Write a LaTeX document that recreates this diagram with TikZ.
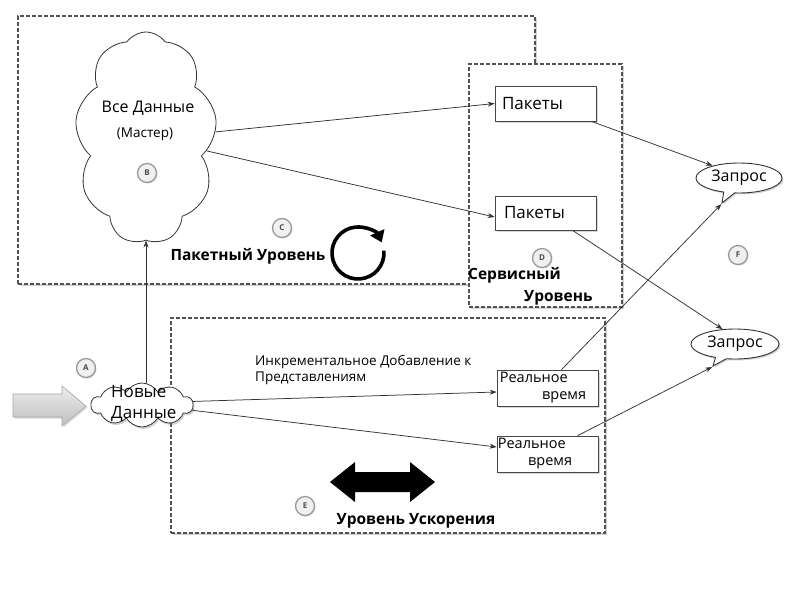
\documentclass[tikz,border=0pt]{standalone}
\usepackage{fontspec}
\setmainfont{Open Sans}
\usetikzlibrary{shapes.symbols,shapes.callouts,shadows,arrows.meta}
\definecolor{ln}{HTML}{333333}
\tikzset{
  dashbox/.style={draw=ln!85, dashed, dash pattern=on 4pt off 2pt, line width=1.3pt, fill=white, inner sep=0pt,
     drop shadow={shadow xshift=2pt, shadow yshift=-2pt, opacity=0.35, fill=gray}},
  plainbox/.style={draw=ln!90, line width=0.7pt, fill=white, inner sep=0pt,
     drop shadow={shadow xshift=1.5pt, shadow yshift=-1.5pt, opacity=0.3, fill=gray}},
  cloudnode/.style={cloud, cloud ignores aspect, draw=ln, line width=0.8pt, fill=white, inner sep=0pt},
  qnode/.style={ellipse callout, draw=ln, line width=0.9pt, fill=white, inner sep=0pt,
     font=\fontsize{16}{18}\selectfont,
     drop shadow={shadow xshift=1.5pt, shadow yshift=-1.5pt, opacity=0.35, fill=gray}},
  letter/.style={circle, draw=gray!80, line width=1.3pt, fill=gray!12, inner sep=0pt, minimum size=19pt,
     font=\fontsize{8}{9}\selectfont\bfseries, text=gray!60!black,
     drop shadow={shadow xshift=1pt, shadow yshift=-1pt, opacity=0.3, fill=gray}},
  conn/.style={draw=ln, line width=0.75pt, -{Stealth[length=7pt,width=5pt]}},
  lbl/.style={inner sep=0pt, font=\fontsize{16}{19}\selectfont},
  blbl/.style={inner sep=0pt, font=\fontsize{15.5}{18}\selectfont\bfseries},
  small/.style={inner sep=0pt, font=\fontsize{13.5}{16.5}\selectfont},
  rtlbl/.style={inner sep=0pt, font=\fontsize{14.5}{17}\selectfont},
}
\begin{document}
\begin{tikzpicture}[x=1pt,y=-1pt]
\useasboundingbox (0,0) rectangle (800,600);
% layers
\node[dashbox, minimum width=517pt, minimum height=268pt] (batch) at (276.5,150) {};
\node[dashbox, minimum width=434pt, minimum height=215pt] (speed) at (388,425.5) {};
\node[dashbox, minimum width=153pt, minimum height=243pt] (service) at (545.5,185.5) {};

% big cloud
\node[cloudnode, cloud puffs=9, cloud puff arc=110, minimum width=142pt, minimum height=212pt] (master) at (146,138) {};
\node[lbl] (t1) at (148,108) {Все Данные};
\node[small] (t2) at (145,134) {(Мастер)};
\node[letter] (B) at (147,173) {B};

% batch labels
\node[letter] (C) at (282,228) {C};
\node[blbl] (batchlbl) at (248,256) {Пакетный Уровень};
\draw[line width=3.6pt, -{Triangle[length=11pt,width=15pt]}] (383.9,250.7) arc[start angle=-5, end angle=336, radius=26];

% service
\node[plainbox, minimum width=101pt, minimum height=35pt, text width=87pt, align=left, font=\fontsize{17}{19}\selectfont] (p1) at (545.5,103.5) {Пакеты};
\node[plainbox, minimum width=101pt, minimum height=34pt, text width=83pt, align=left, font=\fontsize{17}{19}\selectfont] (p2) at (545.5,213) {\raisebox{-3pt}{Пакеты}};
\node[letter] (D) at (542,258) {D};
\node[blbl, anchor=west] (sv1) at (468,275) {Сервисный};
\node[blbl, anchor=west] (sv2) at (524,298) {Уровень};

% queries
\node[qnode, minimum width=86pt, minimum height=30pt, callout absolute pointer={(722,203)}] (q1) at (739,178) {Запрос};
\node[qnode, minimum width=88pt, minimum height=30pt, callout absolute pointer={(713,366)}] (q2) at (735,344) {Запрос};
\node[letter] (F) at (738,255) {F};

% speed layer
\node[plainbox, minimum width=101pt, minimum height=36pt] (r1) at (547.5,388) {};
\node[rtlbl, anchor=north west] at ([xshift=3pt,yshift=-2pt]r1.north west) {Реальное};
\node[rtlbl, anchor=south east] at ([xshift=-12pt,yshift=3pt]r1.south east) {время};
\node[plainbox, minimum width=101pt, minimum height=36pt] (r2) at (547.5,454) {};
\node[rtlbl, anchor=north west] at ([xshift=1pt,yshift=-2pt]r2.north west) {Реальное};
\node[rtlbl, anchor=south east] at ([xshift=-26pt,yshift=3pt]r2.south east) {время};
\node[small, anchor=west, align=left] (inc) at (255,370) {Инкрементальное Добавление к\\Представлениям};
\node[letter] (E) at (305,506) {E};
\node[blbl] (speedlbl) at (416,521) {Уровень Ускорения};
\fill[black] (330,482) -- (355,462) -- (355,472) -- (410,472) -- (410,462) -- (435,482) -- (410,502) -- (410,492) -- (355,492) -- (355,502) -- cycle;

% new data
\draw[draw=gray!70, line width=0.6pt, top color=gray!15, bottom color=gray!50,
  drop shadow={shadow xshift=1.5pt, shadow yshift=-1.5pt, opacity=0.3, fill=gray}]
  (13,394) -- (62,394) -- (62,386) -- (86,406) -- (62,426) -- (62,417) -- (13,417) -- cycle;
\node[letter] (A) at (86,368) {A};
\node[cloudnode, cloud puffs=10, cloud puff arc=120, minimum width=102pt, minimum height=44pt,
  drop shadow={shadow xshift=1.5pt, shadow yshift=-2pt, opacity=0.35, fill=gray}] (nd) at (142,405) {};
\node[lbl, anchor=west, align=left, font=\fontsize{17}{21}\selectfont] (ndt) at (111,404) {Новые\\Данные};

% connectors
\draw[conn] (master.5) -- (p1.west);
\draw[conn] (master.-12) -- ([yshift=-4pt]p2.west);
\draw[conn] ([xshift=-5pt]p1.south east) -- (q1.155);
\draw[conn] ([xshift=27pt]p2.south) -- (q2.130);
\draw[conn] ([xshift=14pt]r1.north) -- (q1.pointer);
\draw[conn] ([xshift=30pt]r2.north) -- (q2.pointer);
\draw[conn] (nd.north -| master.south) -- (master.south);
\draw[conn] (nd.4) -- ([yshift=-4pt]r1.west);
\draw[conn] (nd.-6) -- ([yshift=7pt]r2.west);
\end{tikzpicture}
\end{document}
